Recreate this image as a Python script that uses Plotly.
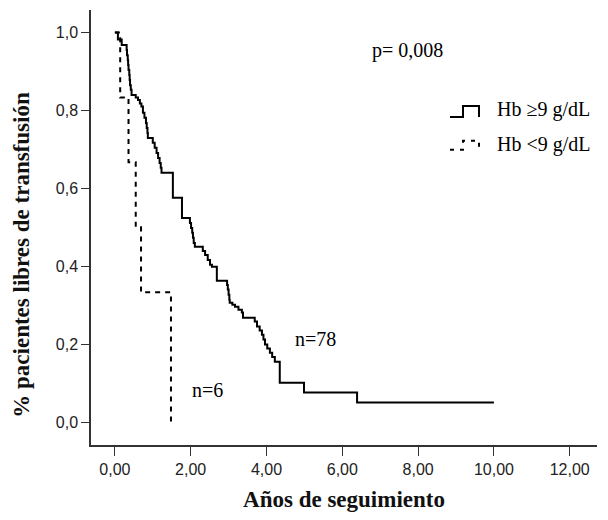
import plotly.graph_objects as go

# Kaplan-Meier style step data (years, survival after event)
hb_hi_times = [0.00, 0.08, 0.18, 0.31, 0.32, 0.34, 0.35, 0.36, 0.38, 0.39, 0.40, 0.42, 0.44,
               0.55, 0.61, 0.66, 0.70, 0.74, 0.78, 0.82, 0.84, 0.86, 0.87,
               1.00, 1.05, 1.10, 1.14, 1.18, 1.21, 1.23, 1.53, 1.77,
               1.98, 2.01, 2.04, 2.06, 2.08, 2.11, 2.32, 2.38, 2.45, 2.51, 2.56, 2.69,
               2.96, 2.98, 3.00, 3.02, 3.03, 3.10, 3.17, 3.26, 3.35, 3.38,
               3.69, 3.75, 3.82, 3.88, 3.92, 3.96, 4.02, 4.09, 4.15, 4.22,
               4.35, 4.99, 6.39, 10.00]
hb_hi_surv = [1.000, 0.982, 0.968, 0.955, 0.942, 0.929, 0.917, 0.904, 0.891, 0.878, 0.865, 0.853, 0.840,
              0.833, 0.827, 0.818, 0.810, 0.794, 0.781, 0.768, 0.755, 0.742, 0.729,
              0.717, 0.704, 0.691, 0.678, 0.665, 0.653, 0.640, 0.576, 0.524,
              0.511, 0.498, 0.486, 0.473, 0.460, 0.450, 0.439, 0.429, 0.416, 0.404, 0.399, 0.363,
              0.352, 0.340, 0.327, 0.314, 0.306, 0.301, 0.296, 0.288, 0.281, 0.268,
              0.258, 0.245, 0.235, 0.224, 0.212, 0.199, 0.189, 0.178, 0.167, 0.155,
              0.101, 0.076, 0.050, 0.050]

hb_lo_times = [0.00, 0.14, 0.36, 0.55, 0.69, 1.48]
hb_lo_surv = [1.000, 0.833, 0.667, 0.500, 0.333, 0.000]

x_ticks = [0, 2, 4, 6, 8, 10, 12]
x_tick_labels = ["0,00", "2,00", "4,00", "6,00", "8,00", "10,00", "12,00"]
y_ticks = [0, 0.2, 0.4, 0.6, 0.8, 1.0]
y_tick_labels = ["0,0", "0,2", "0,4", "0,6", "0,8", "1,0"]

legend_labels = ["Hb \u22659 g/dL", "Hb <9 g/dL"]

SERIF = "Liberation Serif, Times New Roman, serif"
SANS = "Liberation Sans, Arial, sans-serif"

fig = go.Figure()
fig.add_trace(go.Scatter(x=hb_hi_times, y=hb_hi_surv, mode="lines", line_shape="hv",
                         line=dict(color="black", width=2), showlegend=False))
fig.add_trace(go.Scatter(x=hb_lo_times, y=hb_lo_surv, mode="lines", line_shape="hv",
                         line=dict(color="black", width=2, dash="5px,5px"), showlegend=False))

# custom legend glyphs (paper coords)
def step_path(x0, x1, x2, yb, yt):
    return f"M {x0} {yb} L {x1} {yb} L {x1} {yt} L {x2} {yt} L {x2} {yb}"

px = lambda v: (v - 91) / 506
py = lambda v: (445.5 - v) / 435.5
fig.add_shape(type="path", xref="paper", yref="paper",
              path=step_path(px(450), px(463), px(479), py(117), py(106)),
              line=dict(color="black", width=2))
fig.add_shape(type="path", xref="paper", yref="paper",
              path=step_path(px(450), px(463), px(479), py(150), py(141)),
              line=dict(color="black", width=2, dash="4px,6px"))
fig.add_annotation(xref="paper", yref="paper", x=px(495), y=py(110), text=legend_labels[0],
                   showarrow=False, xanchor="left", yanchor="middle",
                   font=dict(family=SERIF, size=20, color="black"))
fig.add_annotation(xref="paper", yref="paper", x=px(495), y=py(145), text=legend_labels[1],
                   showarrow=False, xanchor="left", yanchor="middle",
                   font=dict(family=SERIF, size=20, color="black"))

fig.add_annotation(x=7.73, y=0.955, text="p= 0,008", showarrow=False,
                   font=dict(family=SERIF, size=20, color="black"))
fig.add_annotation(x=5.30, y=0.212, text="n=78", showarrow=False,
                   font=dict(family=SERIF, size=20, color="black"))
fig.add_annotation(x=2.45, y=0.083, text="n=6", showarrow=False,
                   font=dict(family=SERIF, size=20, color="black"))

# y-axis title (placed as annotation to match its vertical position)
fig.add_annotation(xref="paper", yref="paper", x=px(22), y=py(255),
                   text="<b>% pacientes libres de transfusión</b>", textangle=-90,
                   showarrow=False, xanchor="center", yanchor="middle",
                   font=dict(family=SERIF, size=23, color="#111"))

fig.update_layout(
    width=608, height=520,
    margin=dict(l=91, r=11, t=10, b=75),
    paper_bgcolor="white", plot_bgcolor="white",
    xaxis=dict(range=[-0.63, 12.72], tickvals=x_ticks, ticktext=x_tick_labels,
               showgrid=False, zeroline=False, showline=True, linecolor="#333", linewidth=1.5,
               ticks="outside", ticklen=9, tickcolor="#333", tickwidth=1,
               tickfont=dict(family=SANS, size=16, color="#222"),
               title=dict(text="<b>Años de seguimiento</b>", standoff=14,
                          font=dict(family=SERIF, size=23, color="#111"))),
    yaxis=dict(range=[-0.059, 1.058], tickvals=y_ticks, ticktext=y_tick_labels,
               showgrid=False, zeroline=False, showline=True, linecolor="#333", linewidth=1.5,
               ticks="outside", ticklen=8, tickcolor="#333", tickwidth=1,
               tickfont=dict(family=SANS, size=16, color="#222")),
)

fig.write_html("out.html")
